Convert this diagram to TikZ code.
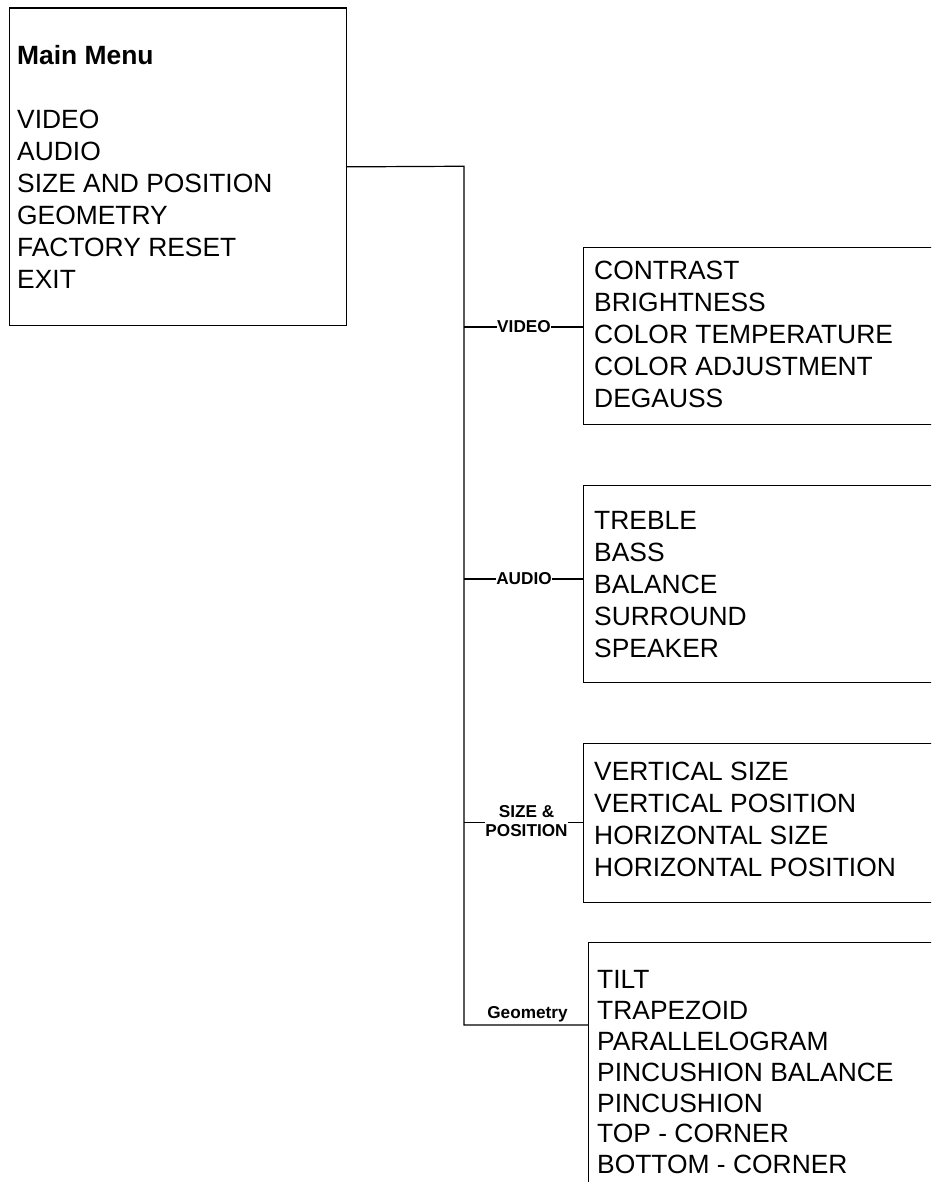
\documentclass[tikz,border=0pt]{standalone}
\usepackage{fontspec}
\setmainfont{Liberation Sans}
\begin{document}
\begin{tikzpicture}[x=1pt,y=-1pt,
  menubox/.style={draw,line width=1.2pt,anchor=north west,inner sep=0pt},
  items/.style={anchor=north west,inner sep=0pt,align=left,font=\fontsize{26.4}{32}\selectfont},
  lbl/.style={inner sep=0.5pt,font=\fontsize{17.2}{19}\selectfont\bfseries},
  conn/.style={line width=1.2pt}]
\useasboundingbox (0,0) rectangle (931,1182);
\clip (0,0) rectangle (931,1182);
% main menu
\node[menubox,minimum width=337pt,minimum height=317.5pt] (mainbox) at (9,7.5) {};
\node[items] (maintext) at (17,44.8) {\textbf{Main Menu}\\[32pt]VIDEO\\AUDIO\\SIZE AND POSITION\\GEOMETRY\\FACTORY RESET\\EXIT};
% sub boxes
\node[menubox,minimum width=380pt,minimum height=177pt] (vbox) at (583,247) {};
\node[items] (vtext) at (594,260.5) {CONTRAST\\BRIGHTNESS\\COLOR TEMPERATURE\\COLOR ADJUSTMENT\\DEGAUSS};
\node[menubox,minimum width=380pt,minimum height=197pt] (abox) at (583,485) {};
\node[items] (atext) at (594,511) {TREBLE\\BASS\\BALANCE\\SURROUND\\SPEAKER};
\node[menubox,minimum width=380pt,minimum height=159pt] (sbox) at (583,743) {};
\node[items] (stext) at (594,762) {VERTICAL SIZE\\VERTICAL POSITION\\HORIZONTAL SIZE\\HORIZONTAL POSITION};
\node[menubox,minimum width=380pt,minimum height=300pt] (gbox) at (588,942) {};
\node[items,font=\fontsize{26.4}{30.8}\selectfont] (gtext) at (597,970.5) {TILT\\TRAPEZOID\\PARALLELOGRAM\\PINCUSHION BALANCE\\PINCUSHION\\TOP - CORNER\\BOTTOM - CORNER};
% trunk
\coordinate (ttop) at (464,166.25);
\coordinate (tv) at (464,327);
\coordinate (ta) at (464,579);
\coordinate (ts) at (464,822.7);
\coordinate (tg) at (464,1025);
\draw[conn] (mainbox.east) -- (ttop) -- (tg) -- (gbox.west |- tg);
% labels
\node[lbl] (vlbl) at (524,327) {VIDEO};
\draw[conn] (tv) -- (vlbl.west);
\draw[conn] (vlbl.east) -- (vbox.west |- vlbl);
\node[lbl] (albl) at (524,579) {AUDIO};
\draw[conn] (ta) -- (albl.west);
\draw[conn] (albl.east) -- (abox.west |- albl);
\node[lbl,align=center,inner sep=0pt] (slbl) at (526.5,821.5) {SIZE \&\\POSITION};
\draw[conn] (ts) -- (slbl.west |- ts);
\draw[conn] (slbl.east |- ts) -- (sbox.west |- ts);
\node[lbl,anchor=base] (glbl) at (527.5,1018) {Geometry};
\end{tikzpicture}
\end{document}
